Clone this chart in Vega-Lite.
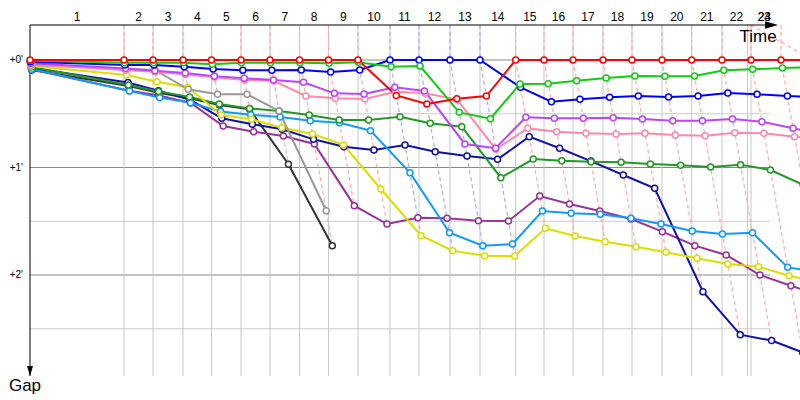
{
  "$schema": "https://vega.github.io/schema/vega-lite/v6.json",
  "width": 740,
  "height": 351,
  "autosize": {"type": "none"},
  "padding": {"left": 30, "top": 25, "right": 30, "bottom": 24},
  "background": "white",
  "config": {"view": {"stroke": null}, "font": "Liberation Sans"},
  "resolve": {"scale": {"color": "independent", "stroke": "independent"}},
  "datasets": {
    "laps": [
      {"lap": 0, "t": 0, "lead": "red"},
      {"lap": 1, "t": 4.947, "lead": "red"},
      {"lap": 2, "t": 6.474, "lead": "red"},
      {"lap": 3, "t": 8.053, "lead": "red"},
      {"lap": 4, "t": 9.553, "lead": "red"},
      {"lap": 5, "t": 11.105, "lead": "red"},
      {"lap": 6, "t": 12.632, "lead": "red"},
      {"lap": 7, "t": 14.184, "lead": "red"},
      {"lap": 8, "t": 15.711, "lead": "red"},
      {"lap": 9, "t": 17.263, "lead": "red"},
      {"lap": 10, "t": 18.947, "lead": "blue"},
      {"lap": 11, "t": 20.474, "lead": "blue"},
      {"lap": 12, "t": 22.105, "lead": "blue"},
      {"lap": 13, "t": 23.684, "lead": "blue"},
      {"lap": 14, "t": 25.563, "lead": "red"},
      {"lap": 15, "t": 27.053, "lead": "red"},
      {"lap": 16, "t": 28.579, "lead": "red"},
      {"lap": 17, "t": 30.158, "lead": "red"},
      {"lap": 18, "t": 31.684, "lead": "red"},
      {"lap": 19, "t": 33.263, "lead": "red"},
      {"lap": 20, "t": 34.826, "lead": "red"},
      {"lap": 21, "t": 36.421, "lead": "red"},
      {"lap": 22, "t": 37.947, "lead": "red"},
      {"lap": 23, "t": 39.526, "lead": "red"},
      {"lap": 24, "t": 41.08, "lead": "red"}
    ],
    "gridY": [{"v": 0}, {"v": 0.5}, {"v": 1}, {"v": 1.5}, {"v": 2}, {"v": 2.5}],
    "pts": [
      {"d": "black", "lap": 0, "gap": 0.093}, {"d": "black", "lap": 1, "gap": 0.242}, {"d": "black", "lap": 2, "gap": 0.304}, {"d": "black", "lap": 3, "gap": 0.356}, {"d": "black", "lap": 4, "gap": 0.419}, {"d": "black", "lap": 5, "gap": 0.459}, {"d": "black", "lap": 6, "gap": 0.97}, {"d": "black", "lap": 7, "gap": 1.727},
      {"d": "purple", "lap": 0, "gap": 0.088}, {"d": "purple", "lap": 1, "gap": 0.286}, {"d": "purple", "lap": 2, "gap": 0.33}, {"d": "purple", "lap": 3, "gap": 0.4}, {"d": "purple", "lap": 4, "gap": 0.614}, {"d": "purple", "lap": 5, "gap": 0.667}, {"d": "purple", "lap": 6, "gap": 0.707}, {"d": "purple", "lap": 7, "gap": 0.781}, {"d": "purple", "lap": 8, "gap": 1.355}, {"d": "purple", "lap": 9, "gap": 1.526}, {"d": "purple", "lap": 10, "gap": 1.467}, {"d": "purple", "lap": 11, "gap": 1.473}, {"d": "purple", "lap": 12, "gap": 1.495}, {"d": "purple", "lap": 13, "gap": 1.498}, {"d": "purple", "lap": 14, "gap": 1.265}, {"d": "purple", "lap": 15, "gap": 1.34}, {"d": "purple", "lap": 16, "gap": 1.405}, {"d": "purple", "lap": 17, "gap": 1.479}, {"d": "purple", "lap": 18, "gap": 1.597}, {"d": "purple", "lap": 19, "gap": 1.727}, {"d": "purple", "lap": 20, "gap": 1.814}, {"d": "purple", "lap": 21, "gap": 2.0}, {"d": "purple", "lap": 22, "gap": 2.1}, {"d": "purple", "lap": 23, "gap": 2.2},
      {"d": "navy", "lap": 0, "gap": 0.075}, {"d": "navy", "lap": 1, "gap": 0.21}, {"d": "navy", "lap": 2, "gap": 0.285}, {"d": "navy", "lap": 3, "gap": 0.37}, {"d": "navy", "lap": 4, "gap": 0.542}, {"d": "navy", "lap": 5, "gap": 0.598}, {"d": "navy", "lap": 6, "gap": 0.645}, {"d": "navy", "lap": 7, "gap": 0.738}, {"d": "navy", "lap": 8, "gap": 0.806}, {"d": "navy", "lap": 9, "gap": 0.837}, {"d": "navy", "lap": 10, "gap": 0.79}, {"d": "navy", "lap": 11, "gap": 0.853}, {"d": "navy", "lap": 12, "gap": 0.893}, {"d": "navy", "lap": 13, "gap": 0.924}, {"d": "navy", "lap": 14, "gap": 0.713}, {"d": "navy", "lap": 15, "gap": 0.821}, {"d": "navy", "lap": 16, "gap": 0.94}, {"d": "navy", "lap": 17, "gap": 1.07}, {"d": "navy", "lap": 18, "gap": 1.194}, {"d": "navy", "lap": 19, "gap": 2.155}, {"d": "navy", "lap": 20, "gap": 2.555}, {"d": "navy", "lap": 21, "gap": 2.61}, {"d": "navy", "lap": 22, "gap": 2.72},
      {"d": "skyblue", "lap": 0, "gap": 0.085}, {"d": "skyblue", "lap": 1, "gap": 0.288}, {"d": "skyblue", "lap": 2, "gap": 0.35}, {"d": "skyblue", "lap": 3, "gap": 0.397}, {"d": "skyblue", "lap": 4, "gap": 0.48}, {"d": "skyblue", "lap": 5, "gap": 0.51}, {"d": "skyblue", "lap": 6, "gap": 0.53}, {"d": "skyblue", "lap": 7, "gap": 0.565}, {"d": "skyblue", "lap": 8, "gap": 0.583}, {"d": "skyblue", "lap": 9, "gap": 0.657}, {"d": "skyblue", "lap": 10, "gap": 1.048}, {"d": "skyblue", "lap": 11, "gap": 1.607}, {"d": "skyblue", "lap": 12, "gap": 1.727}, {"d": "skyblue", "lap": 13, "gap": 1.712}, {"d": "skyblue", "lap": 14, "gap": 1.405}, {"d": "skyblue", "lap": 15, "gap": 1.426}, {"d": "skyblue", "lap": 16, "gap": 1.435}, {"d": "skyblue", "lap": 17, "gap": 1.473}, {"d": "skyblue", "lap": 18, "gap": 1.526}, {"d": "skyblue", "lap": 19, "gap": 1.591}, {"d": "skyblue", "lap": 20, "gap": 1.619}, {"d": "skyblue", "lap": 21, "gap": 1.607}, {"d": "skyblue", "lap": 22, "gap": 1.929}, {"d": "skyblue", "lap": 23, "gap": 1.97},
      {"d": "darkgreen", "lap": 0, "gap": 0.065}, {"d": "darkgreen", "lap": 1, "gap": 0.233}, {"d": "darkgreen", "lap": 2, "gap": 0.293}, {"d": "darkgreen", "lap": 3, "gap": 0.344}, {"d": "darkgreen", "lap": 4, "gap": 0.409}, {"d": "darkgreen", "lap": 5, "gap": 0.451}, {"d": "darkgreen", "lap": 6, "gap": 0.474}, {"d": "darkgreen", "lap": 7, "gap": 0.512}, {"d": "darkgreen", "lap": 8, "gap": 0.558}, {"d": "darkgreen", "lap": 9, "gap": 0.558}, {"d": "darkgreen", "lap": 10, "gap": 0.527}, {"d": "darkgreen", "lap": 11, "gap": 0.589}, {"d": "darkgreen", "lap": 12, "gap": 0.62}, {"d": "darkgreen", "lap": 13, "gap": 1.095}, {"d": "darkgreen", "lap": 14, "gap": 0.921}, {"d": "darkgreen", "lap": 15, "gap": 0.937}, {"d": "darkgreen", "lap": 16, "gap": 0.946}, {"d": "darkgreen", "lap": 17, "gap": 0.952}, {"d": "darkgreen", "lap": 18, "gap": 0.967}, {"d": "darkgreen", "lap": 19, "gap": 0.98}, {"d": "darkgreen", "lap": 20, "gap": 0.995}, {"d": "darkgreen", "lap": 21, "gap": 0.974}, {"d": "darkgreen", "lap": 22, "gap": 1.023}, {"d": "darkgreen", "lap": 23, "gap": 1.16},
      {"d": "yellow", "lap": 0, "gap": 0.056}, {"d": "yellow", "lap": 1, "gap": 0.14}, {"d": "yellow", "lap": 2, "gap": 0.202}, {"d": "yellow", "lap": 3, "gap": 0.254}, {"d": "yellow", "lap": 4, "gap": 0.512}, {"d": "yellow", "lap": 5, "gap": 0.552}, {"d": "yellow", "lap": 6, "gap": 0.63}, {"d": "yellow", "lap": 7, "gap": 0.688}, {"d": "yellow", "lap": 8, "gap": 0.79}, {"d": "yellow", "lap": 9, "gap": 1.2}, {"d": "yellow", "lap": 10, "gap": 1.634}, {"d": "yellow", "lap": 11, "gap": 1.774}, {"d": "yellow", "lap": 12, "gap": 1.82}, {"d": "yellow", "lap": 13, "gap": 1.823}, {"d": "yellow", "lap": 14, "gap": 1.566}, {"d": "yellow", "lap": 15, "gap": 1.637}, {"d": "yellow", "lap": 16, "gap": 1.69}, {"d": "yellow", "lap": 17, "gap": 1.737}, {"d": "yellow", "lap": 18, "gap": 1.789}, {"d": "yellow", "lap": 19, "gap": 1.845}, {"d": "yellow", "lap": 20, "gap": 1.898}, {"d": "yellow", "lap": 21, "gap": 1.923}, {"d": "yellow", "lap": 22, "gap": 2.007}, {"d": "yellow", "lap": 23, "gap": 2.07},
      {"d": "grey", "lap": 0, "gap": 0.047}, {"d": "grey", "lap": 1, "gap": 0.084}, {"d": "grey", "lap": 2, "gap": 0.093}, {"d": "grey", "lap": 3, "gap": 0.273}, {"d": "grey", "lap": 4, "gap": 0.319}, {"d": "grey", "lap": 5, "gap": 0.319}, {"d": "grey", "lap": 6, "gap": 0.474}, {"d": "grey", "lap": 7, "gap": 1.402},
      {"d": "pink", "lap": 0, "gap": 0.04}, {"d": "pink", "lap": 1, "gap": 0.095}, {"d": "pink", "lap": 2, "gap": 0.11}, {"d": "pink", "lap": 3, "gap": 0.135}, {"d": "pink", "lap": 4, "gap": 0.16}, {"d": "pink", "lap": 5, "gap": 0.185}, {"d": "pink", "lap": 6, "gap": 0.195}, {"d": "pink", "lap": 7, "gap": 0.335}, {"d": "pink", "lap": 8, "gap": 0.356}, {"d": "pink", "lap": 9, "gap": 0.363}, {"d": "pink", "lap": 10, "gap": 0.295}, {"d": "pink", "lap": 11, "gap": 0.31}, {"d": "pink", "lap": 12, "gap": 0.366}, {"d": "pink", "lap": 13, "gap": 0.83}, {"d": "pink", "lap": 14, "gap": 0.635}, {"d": "pink", "lap": 15, "gap": 0.667}, {"d": "pink", "lap": 16, "gap": 0.682}, {"d": "pink", "lap": 17, "gap": 0.688}, {"d": "pink", "lap": 18, "gap": 0.682}, {"d": "pink", "lap": 19, "gap": 0.698}, {"d": "pink", "lap": 20, "gap": 0.704}, {"d": "pink", "lap": 21, "gap": 0.676}, {"d": "pink", "lap": 22, "gap": 0.682}, {"d": "pink", "lap": 23, "gap": 0.713}, {"d": "pink", "lap": 24, "gap": 0.73},
      {"d": "violet", "lap": 0, "gap": 0.03}, {"d": "violet", "lap": 1, "gap": 0.08}, {"d": "violet", "lap": 2, "gap": 0.1}, {"d": "violet", "lap": 3, "gap": 0.12}, {"d": "violet", "lap": 4, "gap": 0.15}, {"d": "violet", "lap": 5, "gap": 0.17}, {"d": "violet", "lap": 6, "gap": 0.186}, {"d": "violet", "lap": 7, "gap": 0.207}, {"d": "violet", "lap": 8, "gap": 0.31}, {"d": "violet", "lap": 9, "gap": 0.316}, {"d": "violet", "lap": 10, "gap": 0.254}, {"d": "violet", "lap": 11, "gap": 0.288}, {"d": "violet", "lap": 12, "gap": 0.781}, {"d": "violet", "lap": 13, "gap": 0.82}, {"d": "violet", "lap": 14, "gap": 0.533}, {"d": "violet", "lap": 15, "gap": 0.542}, {"d": "violet", "lap": 16, "gap": 0.542}, {"d": "violet", "lap": 17, "gap": 0.537}, {"d": "violet", "lap": 18, "gap": 0.549}, {"d": "violet", "lap": 19, "gap": 0.565}, {"d": "violet", "lap": 20, "gap": 0.565}, {"d": "violet", "lap": 21, "gap": 0.549}, {"d": "violet", "lap": 22, "gap": 0.574}, {"d": "violet", "lap": 23, "gap": 0.635}, {"d": "violet", "lap": 24, "gap": 0.7},
      {"d": "blue", "lap": 0, "gap": 0.016}, {"d": "blue", "lap": 1, "gap": 0.047}, {"d": "blue", "lap": 2, "gap": 0.047}, {"d": "blue", "lap": 3, "gap": 0.062}, {"d": "blue", "lap": 4, "gap": 0.084}, {"d": "blue", "lap": 5, "gap": 0.096}, {"d": "blue", "lap": 6, "gap": 0.096}, {"d": "blue", "lap": 7, "gap": 0.093}, {"d": "blue", "lap": 8, "gap": 0.112}, {"d": "blue", "lap": 9, "gap": 0.093}, {"d": "blue", "lap": 10, "gap": 0}, {"d": "blue", "lap": 11, "gap": 0}, {"d": "blue", "lap": 12, "gap": 0}, {"d": "blue", "lap": 13, "gap": 0}, {"d": "blue", "lap": 14, "gap": 0.254}, {"d": "blue", "lap": 15, "gap": 0.388}, {"d": "blue", "lap": 16, "gap": 0.366}, {"d": "blue", "lap": 17, "gap": 0.347}, {"d": "blue", "lap": 18, "gap": 0.335}, {"d": "blue", "lap": 19, "gap": 0.344}, {"d": "blue", "lap": 20, "gap": 0.335}, {"d": "blue", "lap": 21, "gap": 0.307}, {"d": "blue", "lap": 22, "gap": 0.319}, {"d": "blue", "lap": 23, "gap": 0.335}, {"d": "blue", "lap": 24, "gap": 0.345},
      {"d": "green", "lap": 0, "gap": 0.005}, {"d": "green", "lap": 1, "gap": 0.025}, {"d": "green", "lap": 2, "gap": 0.025}, {"d": "green", "lap": 3, "gap": 0.025}, {"d": "green", "lap": 4, "gap": 0.04}, {"d": "green", "lap": 5, "gap": 0.025}, {"d": "green", "lap": 6, "gap": 0.025}, {"d": "green", "lap": 7, "gap": 0.025}, {"d": "green", "lap": 8, "gap": 0.03}, {"d": "green", "lap": 9, "gap": 0.02}, {"d": "green", "lap": 10, "gap": 0.062}, {"d": "green", "lap": 11, "gap": 0.056}, {"d": "green", "lap": 12, "gap": 0.487}, {"d": "green", "lap": 13, "gap": 0.546}, {"d": "green", "lap": 14, "gap": 0.223}, {"d": "green", "lap": 15, "gap": 0.22}, {"d": "green", "lap": 16, "gap": 0.193}, {"d": "green", "lap": 17, "gap": 0.167}, {"d": "green", "lap": 18, "gap": 0.149}, {"d": "green", "lap": 19, "gap": 0.152}, {"d": "green", "lap": 20, "gap": 0.149}, {"d": "green", "lap": 21, "gap": 0.096}, {"d": "green", "lap": 22, "gap": 0.087}, {"d": "green", "lap": 23, "gap": 0.074}, {"d": "green", "lap": 24, "gap": 0.065},
      {"d": "red", "lap": 0, "gap": 0}, {"d": "red", "lap": 1, "gap": 0}, {"d": "red", "lap": 2, "gap": 0}, {"d": "red", "lap": 3, "gap": 0}, {"d": "red", "lap": 4, "gap": 0}, {"d": "red", "lap": 5, "gap": 0}, {"d": "red", "lap": 6, "gap": 0}, {"d": "red", "lap": 7, "gap": 0}, {"d": "red", "lap": 8, "gap": 0}, {"d": "red", "lap": 9, "gap": 0}, {"d": "red", "lap": 10, "gap": 0.33}, {"d": "red", "lap": 11, "gap": 0.41}, {"d": "red", "lap": 12, "gap": 0.36}, {"d": "red", "lap": 13, "gap": 0.335}, {"d": "red", "lap": 14, "gap": 0}, {"d": "red", "lap": 15, "gap": 0}, {"d": "red", "lap": 16, "gap": 0}, {"d": "red", "lap": 17, "gap": 0}, {"d": "red", "lap": 18, "gap": 0}, {"d": "red", "lap": 19, "gap": 0}, {"d": "red", "lap": 20, "gap": 0}, {"d": "red", "lap": 21, "gap": 0}, {"d": "red", "lap": 22, "gap": 0}, {"d": "red", "lap": 23, "gap": 0}, {"d": "red", "lap": 24, "gap": 0}
    ]
  },
  "layer": [
    {
      "data": {"name": "gridY"},
      "mark": {"type": "rule", "strokeWidth": 1},
      "encoding": {
        "y": {"field": "v", "type": "quantitative", "scale": {"domain": [-0.3256, 2.9395], "reverse": true, "nice": false, "zero": false}, "axis": null},
        "color": {"condition": {"test": "datum.v % 1 === 0", "value": "#888888"}, "value": "#cccccc"}
      }
    },
    {
      "data": {"name": "laps"},
      "transform": [{"filter": "datum.lap >= 1 && datum.t <= 38.95"}],
      "mark": {"type": "rule", "color": "#c8c8c8", "strokeWidth": 1},
      "encoding": {
        "x": {"field": "t", "type": "quantitative", "scale": {"domain": [0, 38.947], "nice": false, "zero": false}, "axis": null}
      }
    },
    {
      "data": {"values": [{"now": 37.763}]},
      "mark": {"type": "rule", "color": "#c8c8c8", "strokeWidth": 1},
      "encoding": {
        "x": {"field": "now", "type": "quantitative", "scale": {"domain": [0, 38.947], "nice": false, "zero": false}, "axis": null}
      }
    },
    {
      "data": {"name": "gridY"},
      "transform": [
        {"filter": "datum.v % 1 === 0"},
        {"calculate": "'+' + datum.v + \"'\"", "as": "lbl"}
      ],
      "mark": {"type": "text", "font": "Liberation Sans", "fontSize": 10, "align": "right", "baseline": "middle", "dx": -7, "color": "#000000"},
      "encoding": {
        "x": {"datum": 0, "type": "quantitative", "scale": {"domain": [0, 38.947], "nice": false, "zero": false}, "axis": null},
        "y": {"field": "v", "type": "quantitative", "scale": {"domain": [-0.3256, 2.9395], "reverse": true, "nice": false, "zero": false}, "axis": null},
        "text": {"field": "lbl", "type": "nominal"}
      }
    },
    {
      "data": {"values": [{"a": "pinkline", "t": 37.947, "gap": -0.3256}, {"a": "pinkline", "t": 40.53, "gap": -0.065}]},
      "mark": {"type": "line", "strokeDash": [4, 3], "strokeWidth": 1.2, "color": "#ffaaaa"},
      "encoding": {
        "x": {"field": "t", "type": "quantitative", "scale": {"domain": [0, 38.947], "nice": false, "zero": false}, "axis": null},
        "y": {"field": "gap", "type": "quantitative", "scale": {"domain": [-0.3256, 2.9395], "reverse": true, "nice": false, "zero": false}, "axis": null}
      }
    },
    {
      "data": {"name": "laps"},
      "transform": [
        {"filter": "datum.lap >= 1"},
        {"calculate": "datum.lead === 'blue' ? '#aaaaff' : '#ffaaaa'", "as": "dc"}
      ],
      "mark": {"type": "rule", "strokeDash": [4, 3], "strokeWidth": 1.2},
      "encoding": {
        "x": {"field": "t", "type": "quantitative", "scale": {"domain": [0, 38.947], "nice": false, "zero": false}, "axis": null},
        "y": {"datum": -0.3256, "type": "quantitative", "scale": {"domain": [-0.3256, 2.9395], "reverse": true, "nice": false, "zero": false}, "axis": null},
        "y2": {"datum": 0},
        "stroke": {"field": "dc", "type": "nominal", "scale": null}
      }
    },
    {
      "data": {"name": "pts"},
      "transform": [
        {"filter": "datum.lap >= 1"},
        {"lookup": "lap", "from": {"data": {"name": "laps"}, "key": "lap", "fields": ["t", "lead"]}},
        {"calculate": "datum.t + datum.gap", "as": "time"},
        {"calculate": "datum.lead === 'blue' ? '#aaaaff' : '#ffaaaa'", "as": "dc"}
      ],
      "mark": {"type": "line", "strokeDash": [4, 3], "strokeWidth": 1.2},
      "encoding": {
        "x": {"field": "time", "type": "quantitative", "scale": {"domain": [0, 38.947], "nice": false, "zero": false}, "axis": null},
        "y": {"field": "gap", "type": "quantitative", "scale": {"domain": [-0.3256, 2.9395], "reverse": true, "nice": false, "zero": false}, "axis": null},
        "detail": {"field": "lap", "type": "nominal"},
        "order": {"field": "gap", "type": "quantitative"},
        "stroke": {"field": "dc", "type": "nominal", "scale": null}
      }
    },
    {
      "data": {"values": [{}]},
      "mark": {"type": "rule", "color": "#000000", "strokeWidth": 1},
      "encoding": {
        "x": {"datum": 0, "type": "quantitative", "scale": {"domain": [0, 38.947], "nice": false, "zero": false}, "axis": null}
      }
    },
    {
      "data": {"values": [{}]},
      "mark": {"type": "rule", "color": "#000000", "strokeWidth": 1},
      "encoding": {
        "y": {"datum": -0.3256, "type": "quantitative", "scale": {"domain": [-0.3256, 2.9395], "reverse": true, "nice": false, "zero": false}, "axis": null}
      }
    },
    {
      "data": {"name": "pts"},
      "transform": [
        {"lookup": "lap", "from": {"data": {"name": "laps"}, "key": "lap", "fields": ["t"]}},
        {"calculate": "datum.t + datum.gap", "as": "time"}
      ],
      "mark": {"type": "line", "strokeWidth": 2},
      "encoding": {
        "x": {"field": "time", "type": "quantitative", "scale": {"domain": [0, 38.947], "nice": false, "zero": false}, "axis": null},
        "y": {"field": "gap", "type": "quantitative", "scale": {"domain": [-0.3256, 2.9395], "reverse": true, "nice": false, "zero": false}, "axis": null},
        "order": {"field": "lap", "type": "quantitative"},
        "color": {"field": "d", "type": "nominal",
          "scale": {"domain": ["red", "green", "blue", "violet", "pink", "grey", "yellow", "darkgreen", "skyblue", "navy", "purple", "black"],
                    "range": ["#ff0000", "#11cc11", "#0000ff", "#bb44ff", "#ff88aa", "#999999", "#dddd00", "#229922", "#1199ff", "#1111aa", "#993399", "#333333"]},
          "legend": null}
      }
    },
    {
      "data": {"name": "pts"},
      "transform": [
        {"lookup": "lap", "from": {"data": {"name": "laps"}, "key": "lap", "fields": ["t"]}},
        {"calculate": "datum.t + datum.gap", "as": "time"}
      ],
      "mark": {"type": "point", "shape": "circle", "filled": true, "fill": "white", "size": 36, "strokeWidth": 1.5, "opacity": 1},
      "encoding": {
        "x": {"field": "time", "type": "quantitative", "scale": {"domain": [0, 38.947], "nice": false, "zero": false}, "axis": null},
        "y": {"field": "gap", "type": "quantitative", "scale": {"domain": [-0.3256, 2.9395], "reverse": true, "nice": false, "zero": false}, "axis": null},
        "stroke": {"field": "d", "type": "nominal",
          "scale": {"domain": ["red", "green", "blue", "violet", "pink", "grey", "yellow", "darkgreen", "skyblue", "navy", "purple", "black"],
                    "range": ["#ff0000", "#11cc11", "#0000ff", "#bb44ff", "#ff88aa", "#999999", "#dddd00", "#229922", "#1199ff", "#1111aa", "#993399", "#333333"]},
          "legend": null}
      }
    },
    {
      "data": {"name": "laps"},
      "transform": [
        {"window": [{"op": "lag", "field": "t", "as": "prev"}], "sort": [{"field": "lap", "order": "ascending"}]},
        {"filter": "datum.lap >= 1"},
        {"calculate": "min((datum.prev + datum.t) / 2, 38.65)", "as": "mid"}
      ],
      "mark": {"type": "text", "font": "Liberation Sans", "fontSize": 12, "baseline": "alphabetic", "align": "center", "color": "#000000"},
      "encoding": {
        "x": {"field": "mid", "type": "quantitative", "scale": {"domain": [0, 38.947], "nice": false, "zero": false}, "axis": null},
        "y": {"value": -4},
        "text": {"field": "lap", "type": "nominal"}
      }
    },
    {
      "data": {"values": [{}]},
      "mark": {"type": "text", "text": "Time", "font": "Liberation Sans", "fontSize": 17, "align": "right", "baseline": "alphabetic", "color": "#000000"},
      "encoding": {
        "x": {"datum": 39.3, "type": "quantitative", "scale": {"domain": [0, 38.947], "nice": false, "zero": false}, "axis": null},
        "y": {"value": 17}
      }
    },
    {
      "data": {"values": [{}]},
      "mark": {"type": "text", "text": "Gap", "font": "Liberation Sans", "fontSize": 17, "align": "center", "baseline": "alphabetic", "color": "#000000", "dx": -5},
      "encoding": {
        "x": {"datum": 0, "type": "quantitative", "scale": {"domain": [0, 38.947], "nice": false, "zero": false}, "axis": null},
        "y": {"value": 366}
      }
    },
    {
      "data": {"values": [{}]},
      "mark": {"type": "point", "shape": "M1,0L-1,-0.57L-1,0.57Z", "size": 169, "filled": true, "color": "#000000", "opacity": 1},
      "encoding": {
        "x": {"datum": 39.03, "type": "quantitative", "scale": {"domain": [0, 38.947], "nice": false, "zero": false}, "axis": null},
        "y": {"datum": -0.3256, "type": "quantitative", "scale": {"domain": [-0.3256, 2.9395], "reverse": true, "nice": false, "zero": false}, "axis": null}
      }
    },
    {
      "data": {"values": [{}]},
      "mark": {"type": "point", "shape": "M0,1L-0.6,-1L0.6,-1Z", "size": 100, "filled": true, "color": "#000000", "opacity": 1},
      "encoding": {
        "x": {"datum": 0, "type": "quantitative", "scale": {"domain": [0, 38.947], "nice": false, "zero": false}, "axis": null},
        "y": {"datum": 2.893, "type": "quantitative", "scale": {"domain": [-0.3256, 2.9395], "reverse": true, "nice": false, "zero": false}, "axis": null}
      }
    }
  ]
}
